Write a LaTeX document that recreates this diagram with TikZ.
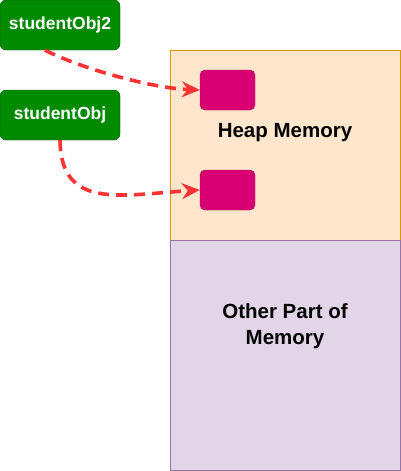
\documentclass[tikz,border=0pt]{standalone}
\usepackage{fontspec}
\setmainfont{Liberation Sans}
\usetikzlibrary{arrows.meta}
\definecolor{gfill}{HTML}{008A00}
\definecolor{gdraw}{HTML}{005700}
\definecolor{pfill}{HTML}{D80073}
\definecolor{pdraw}{HTML}{A50040}
\definecolor{hfill}{HTML}{FFE6CC}
\definecolor{hdraw}{HTML}{D79B00}
\definecolor{ofill}{HTML}{E1D5E7}
\definecolor{odraw}{HTML}{9673A6}
\definecolor{arr}{HTML}{FF3333}
\tikzset{
  refbox/.style={draw=gdraw, fill=gfill, rounded corners=6pt, minimum width=120pt, minimum height=50pt, inner sep=0pt, text=white, font=\bfseries\fontsize{17.5}{20}\selectfont},
  objbox/.style={draw=pdraw, fill=pfill, rounded corners=5pt, minimum width=55pt, minimum height=40pt, inner sep=0pt},
  region/.style={minimum width=230pt, minimum height=190pt, inner sep=0pt, line width=1pt},
  label/.style={font=\bfseries\fontsize{20.5}{26}\selectfont, align=center, inner sep=0pt},
  link/.style={draw=arr, line width=3.6pt, dash pattern=on 11pt off 7pt, -{Stealth[length=18pt, width=16pt, inset=6pt]}}
}
\begin{document}
\begin{tikzpicture}[x=1pt, y=-1pt]
\useasboundingbox (0,0) rectangle (401,471);
\node[region, draw=hdraw, fill=hfill, minimum height=190pt] (heap) at (285,145) {};
\node[region, draw=odraw, fill=ofill, minimum height=230pt] (other) at (285,355) {};
\node[label, anchor=base] (heaplabel) at (285,137) {Heap Memory};
\node[label, anchor=base] (otherlabel) at (285,344) {Other Part of\\Memory};
\node[objbox] (p1) at (227.5,90) {};
\node[objbox] (p2) at (227.5,190) {};
\node[refbox] (obj2) at (60,25) {studentObj2};
\node[refbox] (obj) at (60,115) {studentObj};
\coordinate (s2) at ([xshift=-15pt]obj2.south);
\draw[link] (s2) .. controls (80,68) and (150,88) .. (p1.west);
\draw[link] (obj.south) .. controls (61,210) and (120,195) .. (p2.west);
\end{tikzpicture}
\end{document}
